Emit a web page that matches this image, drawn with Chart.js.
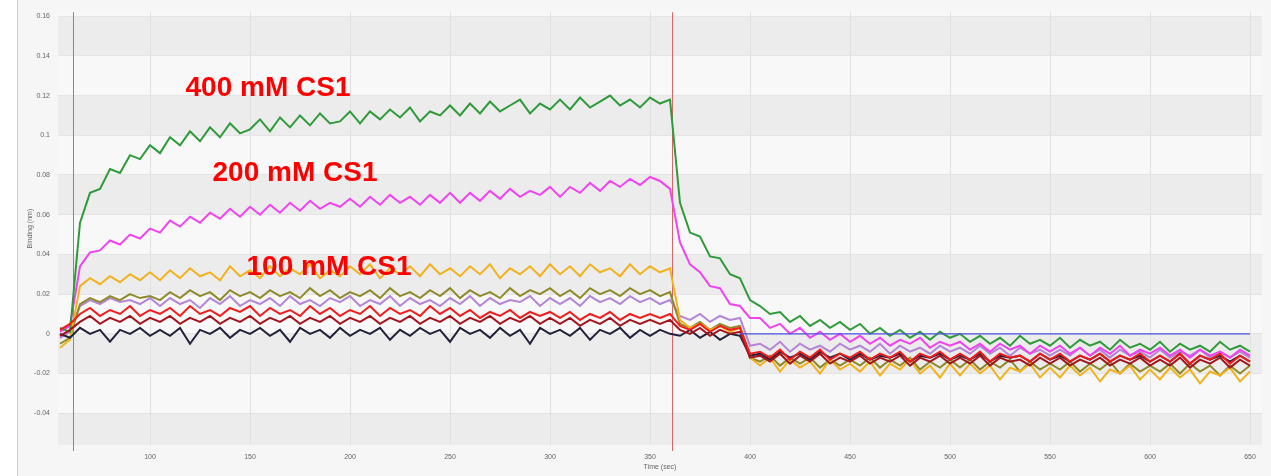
<!DOCTYPE html>
<html>
<head>
<meta charset="utf-8">
<script src="https://cdn.jsdelivr.net/npm/chart.js@4.4.0/dist/chart.umd.min.js"></script>
<style>
html, body { margin: 0; padding: 0; background: #fff; }
#wrap { width: 1271px; height: 476px; }
</style>
</head>
<body>
<div id="wrap"><canvas id="grafico" width="1271" height="476"></canvas></div>
<script>
// time (sec), one reading every 5 s
const tempos = [
    55, 60, 65, 70, 75, 80, 85, 90, 95, 100,
    105, 110, 115, 120, 125, 130, 135, 140, 145, 150,
    155, 160, 165, 170, 175, 180, 185, 190, 195, 200,
    205, 210, 215, 220, 225, 230, 235, 240, 245, 250,
    255, 260, 265, 270, 275, 280, 285, 290, 295, 300,
    305, 310, 315, 320, 325, 330, 335, 340, 345, 350,
    355, 360, 365, 370, 375, 380, 385, 390, 395, 400,
    405, 410, 415, 420, 425, 430, 435, 440, 445, 450,
    455, 460, 465, 470, 475, 480, 485, 490, 495, 500,
    505, 510, 515, 520, 525, 530, 535, 540, 545, 550,
    555, 560, 565, 570, 575, 580, 585, 590, 595, 600,
    605, 610, 615, 620, 625, 630, 635, 640, 645, 650
];

// binding (nm)
const verde400 = [
    0.003, 0.001, 0.056, 0.071, 0.073, 0.083, 0.081, 0.090, 0.088, 0.095,
    0.091, 0.099, 0.095, 0.102, 0.097, 0.104, 0.099, 0.106, 0.101, 0.103,
    0.108, 0.102, 0.109, 0.104, 0.110, 0.105, 0.111, 0.106, 0.107, 0.112,
    0.106, 0.112, 0.108, 0.113, 0.109, 0.114, 0.107, 0.112, 0.110, 0.115,
    0.110, 0.116, 0.111, 0.117, 0.112, 0.115, 0.118, 0.111, 0.116, 0.113,
    0.118, 0.113, 0.119, 0.114, 0.117, 0.120, 0.115, 0.118, 0.114, 0.119,
    0.116, 0.118, 0.066, 0.051, 0.049, 0.039, 0.038, 0.030, 0.028, 0.017,
    0.014, 0.010, 0.011, 0.006, 0.009, 0.004, 0.007, 0.003, 0.006, 0.002,
    0.005, 0.000, 0.003, -0.001, 0.002, -0.002, 0.001, -0.003, 0.001, -0.002,
    0.000, -0.004, -0.001, -0.005, -0.002, -0.006, -0.001, -0.005, -0.003, -0.006,
    -0.002, -0.007, -0.003, -0.006, -0.004, -0.008, -0.003, -0.007, -0.005, -0.008,
    -0.004, -0.009, -0.005, -0.008, -0.006, -0.009, -0.004, -0.008, -0.006, -0.009
];
const magenta200 = [
    0.001, 0.004, 0.034, 0.041, 0.042, 0.047, 0.045, 0.050, 0.048, 0.053,
    0.051, 0.057, 0.054, 0.059, 0.056, 0.061, 0.058, 0.063, 0.059, 0.064,
    0.060, 0.065, 0.061, 0.066, 0.062, 0.067, 0.063, 0.066, 0.064, 0.068,
    0.064, 0.069, 0.065, 0.070, 0.066, 0.069, 0.065, 0.070, 0.066, 0.071,
    0.066, 0.071, 0.067, 0.072, 0.068, 0.073, 0.069, 0.072, 0.070, 0.074,
    0.069, 0.074, 0.071, 0.076, 0.072, 0.077, 0.074, 0.078, 0.075, 0.079,
    0.077, 0.073, 0.046, 0.035, 0.031, 0.024, 0.023, 0.015, 0.014, 0.008,
    0.008, 0.003, 0.005, 0.000, 0.003, -0.002, 0.001, -0.003, 0.000, -0.004,
    -0.001, -0.005, -0.002, -0.006, -0.003, -0.005, -0.002, -0.007, -0.004, -0.006,
    -0.004, -0.008, -0.005, -0.009, -0.005, -0.008, -0.006, -0.010, -0.006, -0.009,
    -0.006, -0.010, -0.007, -0.011, -0.007, -0.010, -0.006, -0.011, -0.008, -0.010,
    -0.007, -0.011, -0.008, -0.012, -0.008, -0.011, -0.009, -0.012, -0.008, -0.011
];
const laranja100 = [
    -0.007, -0.003, 0.024, 0.028, 0.025, 0.029, 0.026, 0.030, 0.027, 0.031,
    0.027, 0.032, 0.028, 0.033, 0.029, 0.031, 0.027, 0.034, 0.029, 0.032,
    0.028, 0.034, 0.029, 0.033, 0.030, 0.035, 0.028, 0.032, 0.029, 0.034,
    0.030, 0.035, 0.028, 0.033, 0.030, 0.034, 0.029, 0.035, 0.030, 0.033,
    0.029, 0.034, 0.030, 0.035, 0.028, 0.033, 0.030, 0.034, 0.029, 0.035,
    0.030, 0.034, 0.029, 0.035, 0.031, 0.033, 0.029, 0.035, 0.030, 0.034,
    0.031, 0.033, 0.007, 0.003, 0.005, 0.002, 0.004, 0.001, 0.003, -0.012,
    -0.016, -0.012, -0.019, -0.013, -0.017, -0.014, -0.020, -0.013, -0.018, -0.015,
    -0.019, -0.014, -0.021, -0.015, -0.018, -0.013, -0.020, -0.016, -0.022, -0.015,
    -0.021, -0.015, -0.020, -0.016, -0.023, -0.017, -0.019, -0.015, -0.022, -0.017,
    -0.022, -0.016, -0.021, -0.017, -0.024, -0.018, -0.020, -0.016, -0.023, -0.018,
    -0.023, -0.017, -0.022, -0.018, -0.025, -0.019, -0.021, -0.017, -0.024, -0.019
];
const oliva = [
    -0.005, -0.002, 0.015, 0.018, 0.016, 0.019, 0.017, 0.020, 0.018, 0.019,
    0.017, 0.021, 0.018, 0.022, 0.019, 0.021, 0.017, 0.022, 0.019, 0.021,
    0.018, 0.022, 0.019, 0.021, 0.018, 0.023, 0.019, 0.022, 0.018, 0.021,
    0.019, 0.022, 0.018, 0.023, 0.019, 0.021, 0.018, 0.022, 0.019, 0.023,
    0.018, 0.022, 0.019, 0.021, 0.018, 0.023, 0.019, 0.022, 0.020, 0.023,
    0.019, 0.022, 0.018, 0.023, 0.020, 0.022, 0.019, 0.023, 0.020, 0.022,
    0.019, 0.021, 0.005, 0.003, 0.006, 0.002, 0.005, 0.003, 0.004, -0.012,
    -0.014, -0.011, -0.016, -0.012, -0.015, -0.012, -0.017, -0.013, -0.016, -0.013,
    -0.016, -0.012, -0.017, -0.013, -0.016, -0.012, -0.018, -0.014, -0.017, -0.013,
    -0.017, -0.013, -0.018, -0.014, -0.017, -0.013, -0.019, -0.014, -0.018, -0.015,
    -0.018, -0.014, -0.019, -0.015, -0.018, -0.014, -0.020, -0.015, -0.019, -0.016,
    -0.019, -0.015, -0.020, -0.015, -0.019, -0.016, -0.021, -0.016, -0.020, -0.016
];
const lilas = [
    -0.002, 0.001, 0.014, 0.017, 0.015, 0.018, 0.016, 0.017, 0.015, 0.018,
    0.014, 0.018, 0.015, 0.017, 0.013, 0.018, 0.015, 0.019, 0.014, 0.017,
    0.015, 0.018, 0.014, 0.019, 0.015, 0.017, 0.014, 0.018, 0.016, 0.019,
    0.014, 0.017, 0.015, 0.019, 0.014, 0.018, 0.015, 0.017, 0.014, 0.018,
    0.015, 0.019, 0.014, 0.018, 0.015, 0.017, 0.016, 0.019, 0.014, 0.018,
    0.015, 0.018, 0.014, 0.019, 0.016, 0.018, 0.015, 0.019, 0.016, 0.018,
    0.015, 0.017, 0.009, 0.007, 0.010, 0.006, 0.009, 0.007, 0.008, -0.006,
    -0.005, -0.008, -0.004, -0.009, -0.005, -0.008, -0.006, -0.009, -0.005, -0.008,
    -0.006, -0.009, -0.005, -0.010, -0.006, -0.009, -0.007, -0.010, -0.006, -0.009,
    -0.007, -0.010, -0.006, -0.010, -0.007, -0.011, -0.007, -0.010, -0.008, -0.011,
    -0.008, -0.011, -0.007, -0.011, -0.008, -0.012, -0.008, -0.011, -0.009, -0.012,
    -0.008, -0.012, -0.009, -0.011, -0.008, -0.012, -0.009, -0.012, -0.009, -0.012
];
const vermelho = [
    0.002, 0.005, 0.010, 0.013, 0.009, 0.012, 0.010, 0.014, 0.009, 0.012,
    0.010, 0.013, 0.009, 0.014, 0.010, 0.012, 0.009, 0.013, 0.011, 0.014,
    0.009, 0.013, 0.010, 0.012, 0.009, 0.014, 0.010, 0.013, 0.009, 0.012,
    0.010, 0.014, 0.009, 0.013, 0.010, 0.012, 0.009, 0.014, 0.010, 0.013,
    0.009, 0.012, 0.008, 0.011, 0.009, 0.012, 0.008, 0.011, 0.009, 0.011,
    0.008, 0.011, 0.007, 0.010, 0.008, 0.011, 0.007, 0.010, 0.008, 0.010,
    0.008, 0.010, 0.004, 0.002, 0.005, 0.001, 0.004, 0.002, 0.003, -0.010,
    -0.009, -0.012, -0.008, -0.013, -0.009, -0.012, -0.008, -0.013, -0.010, -0.012,
    -0.009, -0.013, -0.010, -0.012, -0.009, -0.014, -0.010, -0.012, -0.009, -0.013,
    -0.010, -0.013, -0.009, -0.014, -0.010, -0.012, -0.011, -0.014, -0.010, -0.013,
    -0.010, -0.014, -0.011, -0.013, -0.010, -0.014, -0.011, -0.013, -0.010, -0.014,
    -0.011, -0.014, -0.010, -0.015, -0.011, -0.013, -0.010, -0.015, -0.011, -0.014
];
const vinho = [
    -0.001, 0.002, 0.006, 0.009, 0.005, 0.008, 0.006, 0.009, 0.005, 0.008,
    0.006, 0.009, 0.005, 0.008, 0.006, 0.009, 0.005, 0.008, 0.006, 0.009,
    0.005, 0.008, 0.006, 0.009, 0.005, 0.008, 0.006, 0.009, 0.005, 0.008,
    0.006, 0.009, 0.005, 0.008, 0.006, 0.009, 0.005, 0.008, 0.006, 0.009,
    0.005, 0.008, 0.006, 0.009, 0.005, 0.008, 0.006, 0.009, 0.005, 0.008,
    0.005, 0.008, 0.004, 0.007, 0.005, 0.008, 0.004, 0.007, 0.005, 0.007,
    0.005, 0.007, 0.002, 0.000, 0.003, -0.001, 0.002, 0.000, 0.001, -0.012,
    -0.011, -0.014, -0.010, -0.015, -0.011, -0.014, -0.010, -0.015, -0.012, -0.014,
    -0.011, -0.015, -0.012, -0.014, -0.011, -0.016, -0.012, -0.014, -0.011, -0.015,
    -0.012, -0.015, -0.011, -0.016, -0.012, -0.014, -0.013, -0.016, -0.012, -0.015,
    -0.012, -0.016, -0.013, -0.015, -0.012, -0.016, -0.013, -0.015, -0.012, -0.016,
    -0.013, -0.016, -0.012, -0.017, -0.013, -0.015, -0.012, -0.017, -0.013, -0.016
];
const preto = [
    0.000, -0.002, 0.003, 0.000, 0.002, -0.004, 0.002, 0.000, 0.003, -0.001,
    0.002, -0.001, 0.003, -0.005, 0.002, 0.000, 0.003, -0.002, 0.002, 0.000,
    0.003, -0.001, 0.002, -0.004, 0.003, 0.000, 0.002, -0.002, 0.003, -0.001,
    0.002, 0.000, 0.003, -0.003, 0.002, -0.001, 0.003, 0.000, 0.002, -0.004,
    0.003, 0.000, 0.002, -0.002, 0.003, -0.001, 0.002, -0.005, 0.003, 0.000,
    0.002, -0.001, 0.003, -0.003, 0.002, 0.000, 0.003, -0.002, 0.002, -0.001,
    0.002, 0.000, -0.001, 0.002, -0.002, 0.001, -0.003, 0.000, -0.001, -0.011,
    -0.010, -0.013, -0.009, -0.012, -0.010, -0.013, -0.009, -0.012, -0.010, -0.013,
    -0.010, -0.013, -0.011, -0.012, -0.010, -0.014, -0.011, -0.012, -0.010, -0.013,
    -0.011, -0.013, -0.010, -0.014, -0.011, -0.012, -0.011, -0.014, -0.010, -0.013,
    -0.011, -0.014, -0.011, -0.013, -0.010, -0.014, -0.011, -0.013, -0.011, -0.014,
    -0.011, -0.014, -0.010, -0.015, -0.011, -0.013, -0.011, -0.014, -0.011, -0.014
];
// reference (buffer) line during dissociation
const temposAzul = [395, 650];
const azul = [0, 0];

const xTicks = [100, 150, 200, 250, 300, 350, 400, 450, 500, 550, 600, 650];
const yTicks = [-0.04, -0.02, 0, 0.02, 0.04, 0.06, 0.08, 0.1, 0.12, 0.14, 0.16];
const passos = [61.5, 361];   // association start / dissociation start

const rotulos = ['400 mM CS1', '200 mM CS1', '100 mM CS1'];
const rotuloX = [159, 172.5, 189.5];
const rotuloY = [0.1235, 0.081, 0.0336];

function pontos(xs, ys) {
    return ys.map((v, i) => ({ x: xs[i], y: v }));
}

function serie(dados, cor) {
    return {
        data: pontos(tempos, dados),
        borderColor: cor,
        borderWidth: 2,
        pointRadius: 0,
        tension: 0
    };
}

const fundo = {
    id: 'fundo',
    beforeDraw(chart) {
        const { ctx, chartArea: a, scales: { y } } = chart;
        ctx.save();
        ctx.fillStyle = '#f6f6f6';
        ctx.fillRect(18, 0, chart.width - 18, chart.height);
        ctx.fillStyle = '#cfcfcf';
        ctx.fillRect(17, 0, 1, chart.height);
        const bordas = [y.min, -0.06, ...yTicks, y.max];
        for (let i = 0; i < bordas.length - 1; i++) {
            const lo = Math.max(bordas[i], y.min);
            const hi = Math.min(bordas[i + 1], y.max);
            if (hi <= lo) continue;
            const topo = y.getPixelForValue(hi);
            const base = y.getPixelForValue(lo);
            const cinza = Math.round((bordas[i] + 0.06) / 0.02) % 2 === 0;
            ctx.fillStyle = cinza ? '#ececec' : '#f8f8f8';
            ctx.fillRect(a.left, topo, a.right - a.left, base - topo);
        }
        ctx.restore();
    },
    beforeDatasetsDraw(chart) {
        const { ctx, chartArea: a, scales: { x } } = chart;
        ctx.save();
        ctx.strokeStyle = '#d06a6a';
        ctx.lineWidth = 1;
        passos.forEach(function (t) {
            const px = Math.round(x.getPixelForValue(t)) + 0.5;
            ctx.beginPath();
            ctx.moveTo(px, a.top);
            ctx.lineTo(px, a.bottom + 6);
            ctx.stroke();
        });
        ctx.restore();
    },
    afterDatasetsDraw(chart) {
        const { ctx, scales: { x, y } } = chart;
        ctx.save();
        ctx.fillStyle = '#ff0000';
        ctx.font = 'bold 28px "Liberation Sans", Arial, sans-serif';
        ctx.textAlign = 'center';
        ctx.textBaseline = 'middle';
        rotulos.forEach(function (txt, i) {
            ctx.fillText(txt, x.getPixelForValue(rotuloX[i]), y.getPixelForValue(rotuloY[i]));
        });
        ctx.restore();
    }
};

const fonteEixo = { size: 7, family: '"Liberation Sans", Arial, sans-serif' };

const ctx = document.getElementById('grafico');
const grafico = new Chart(ctx, {
    type: 'line',
    data: {
        datasets: [
            {
                data: pontos(temposAzul, azul),
                borderColor: '#5050e0',
                borderWidth: 1.2,
                pointRadius: 0
            },
            serie(vermelho, '#f01c1c'),
            serie(vinho, '#a3141c'),
            serie(preto, '#22223c'),
            serie(verde400, '#2f9a3a'),
            serie(magenta200, '#f043f0'),
            serie(laranja100, '#f2b21e'),
            serie(oliva, '#8e8a2a'),
            serie(lilas, '#b585d5')
        ]
    },
    options: {
        responsive: false,
        animation: false,
        devicePixelRatio: 1,
        layout: { padding: { left: 18, top: 5, right: 9, bottom: 0 } },
        plugins: {
            legend: { display: false },
            tooltip: { enabled: false }
        },
        scales: {
            x: {
                type: 'linear',
                min: 54,
                max: 656,
                afterBuildTicks: ax => { ax.ticks = xTicks.map(v => ({ value: v })); },
                afterFit: ax => { ax.height = 31; },
                grid: { color: '#e0e0e0', drawTicks: false },
                border: { display: false },
                ticks: { font: fonteEixo, color: '#666', padding: 8, maxRotation: 0, autoSkip: false },
                title: { display: true, text: 'Time (sec)', font: fonteEixo, color: '#666', padding: { top: 0, bottom: 5 } }
            },
            y: {
                min: -0.056,
                max: 0.162,
                afterBuildTicks: ax => { ax.ticks = yTicks.map(v => ({ value: v })); },
                afterFit: ax => { ax.width = 40; },
                grid: { color: '#e4e4e4', drawTicks: false },
                border: { display: false },
                ticks: {
                    font: fonteEixo,
                    color: '#666',
                    padding: 8,
                    autoSkip: false,
                    callback: v => String(Number(v.toFixed(2)))
                },
                title: { display: true, text: 'Binding (nm)', font: fonteEixo, color: '#666', padding: { top: 8, bottom: 0 } }
            }
        }
    },
    plugins: [fundo]
});
</script>
</body>
</html>
